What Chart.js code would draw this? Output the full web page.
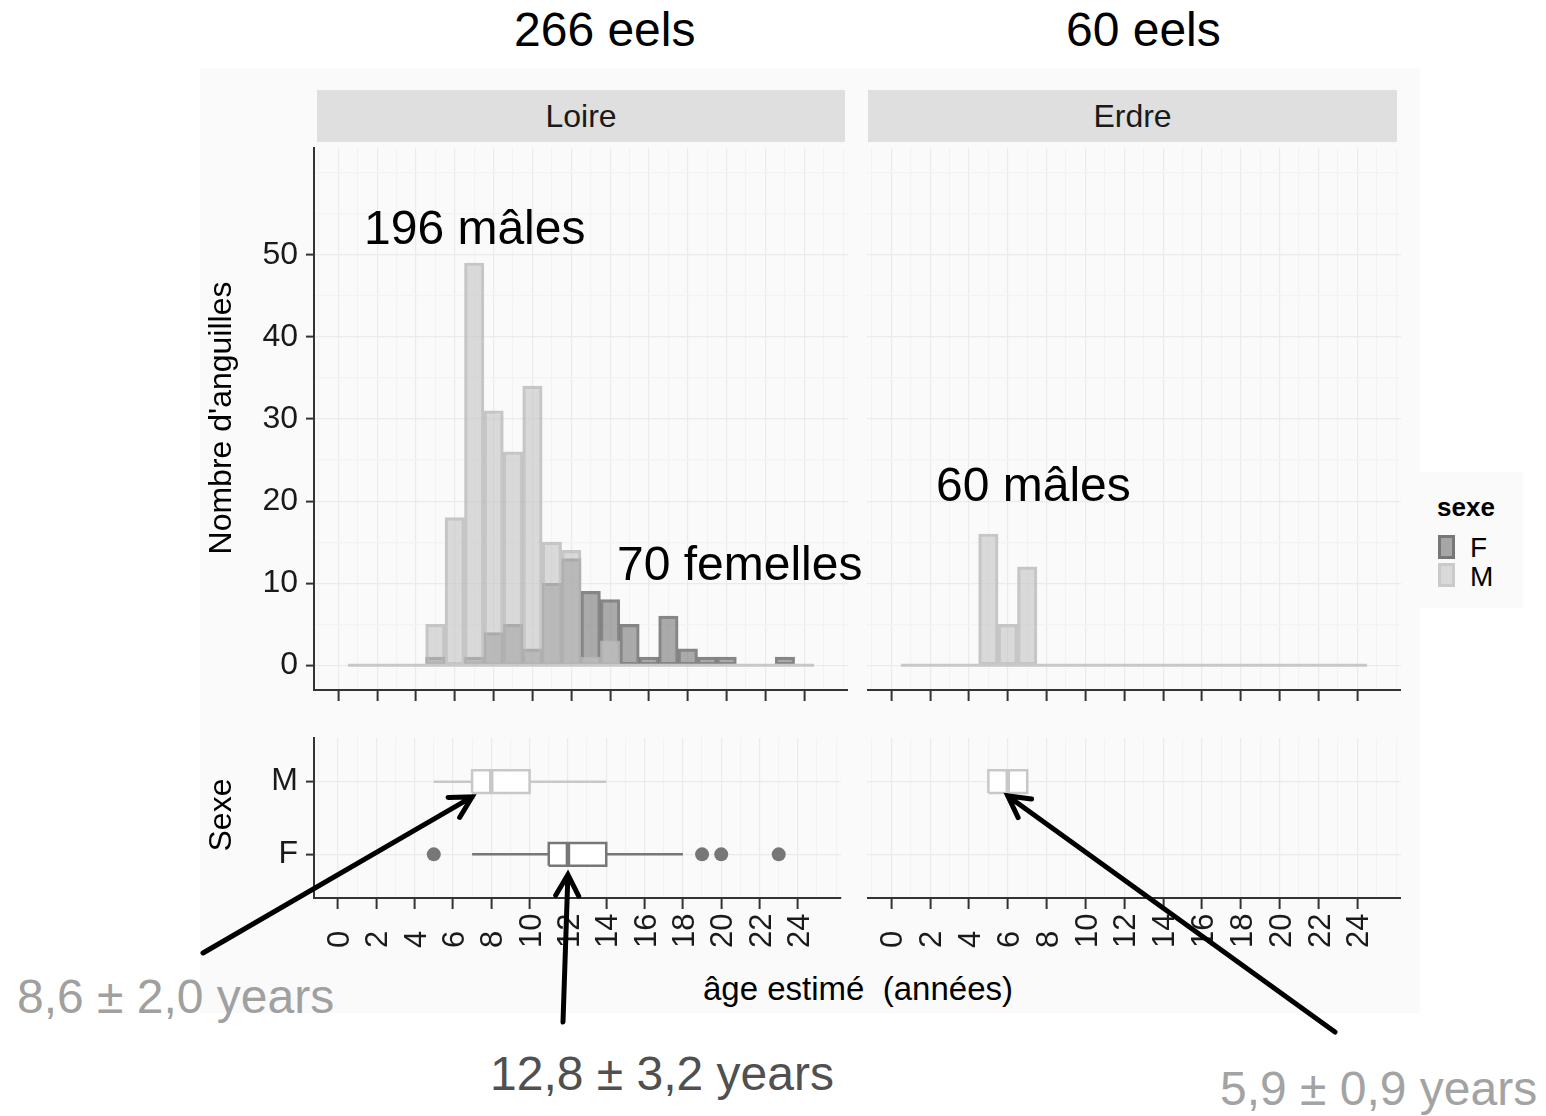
<!DOCTYPE html>
<html>
<head>
<meta charset="utf-8">
<title>Âge estimé des anguilles – Loire et Erdre</title>
<script src="https://cdn.jsdelivr.net/npm/chart.js@4.4.1/dist/chart.umd.min.js"></script>
<style>
  html, body { margin: 0; padding: 0; background: #ffffff; }
  #page { position: relative; width: 1546px; height: 1116px; overflow: hidden;
          font-family: "Liberation Sans", Arial, Helvetica, sans-serif; color: #000; }
  .abs { position: absolute; }
  canvas { position: absolute; }
  .t { position: absolute; white-space: pre; line-height: 1; }
  .strip { position: absolute; background: #dfdfdf; display: flex; align-items: center;
           justify-content: center; font-size: 32px; color: #1a1a1a; }
  .rot { position: absolute; white-space: pre; line-height: 1; font-size: 32px;
         transform: translate(-50%, -50%) rotate(-90deg); }
</style>
</head>
<body>
<div id="page">
  <!-- plot background -->
  <div class="abs" style="left:200px;top:68px;width:1220px;height:945px;background:#fafafa"></div>

  <!-- facet strips -->
  <div class="strip" style="left:317px;top:90px;width:528px;height:52px">Loire</div>
  <div class="strip" style="left:868px;top:90px;width:529px;height:52px">Erdre</div>

  <!-- legend -->
  <div class="abs" style="left:1419px;top:472px;width:104px;height:136px;background:#fafafa"></div>
  <div class="t" style="left:1437px;top:494px;font-size:26px;font-weight:bold">sexe</div>
  <div class="abs" style="left:1438px;top:535px;width:17px;height:24px;box-sizing:border-box;background:#a6a6a6;border:3px solid #777777"></div>
  <div class="abs" style="left:1438px;top:563px;width:17px;height:24px;box-sizing:border-box;background:#d9d9d9;border:3px solid #cacaca"></div>
  <div class="t" style="left:1470px;top:534px;font-size:28px">F</div>
  <div class="t" style="left:1470px;top:563px;font-size:28px">M</div>

  <!-- charts -->
  <canvas id="loireHist" width="648" height="570" style="left:200px;top:140px"></canvas>
  <canvas id="erdreHist" width="534" height="570" style="left:867px;top:140px"></canvas>
  <canvas id="loireBox" width="648" height="235" style="left:200px;top:730px"></canvas>
  <canvas id="erdreBox" width="534" height="235" style="left:867px;top:730px"></canvas>

  <!-- axis titles -->
  <div class="rot" style="left:220px;top:418px">Nombre d'anguilles</div>
  <div class="rot" style="left:220px;top:815px">Sexe</div>
  <div class="t" style="left:703px;top:972px;font-size:33px">âge estimé  (années)</div>

  <!-- annotations -->
  <div class="t" style="left:514px;top:6px;font-size:48px">266 eels</div>
  <div class="t" style="left:1066px;top:6px;font-size:48px">60 eels</div>
  <div class="t" style="left:364px;top:204px;font-size:48px">196 mâles</div>
  <div class="t" style="left:617px;top:540px;font-size:48px">70 femelles</div>
  <div class="t" style="left:936px;top:461px;font-size:48px">60 mâles</div>
  <div class="t" style="left:17px;top:973px;font-size:48px;color:#a0a0a0">8,6 ± 2,0 years</div>
  <div class="t" style="left:490px;top:1050px;font-size:48px;color:#505050">12,8 ± 3,2 years</div>
  <div class="t" style="left:1220px;top:1065px;font-size:48px;color:#a3a3a3">5,9 ± 0,9 years</div>

  <canvas id="arrows" width="1546" height="1116" style="left:0;top:0;pointer-events:none"></canvas>
</div>

<script>
// ---- data -------------------------------------------------------------
// histogram bins of width 1 year, centred on each age
const ages = [1, 2, 3, 4, 5, 6, 7, 8, 9, 10, 11, 12, 13, 14, 15, 16, 17, 18, 19, 20, 21, 22, 23, 24];
const loireFemales = [0, 0, 0, 0, 1, 0, 1, 4, 5, 2, 10, 13, 9, 8, 5, 1, 6, 2, 1, 1, 0, 0, 1, 0];
const loireMales   = [0, 0, 0, 0, 5, 18, 49, 31, 26, 34, 15, 14, 1, 3, 0, 0, 0, 0, 0, 0, 0, 0, 0, 0];
const erdreFemales = [0, 0, 0, 0, 0, 0, 0, 0, 0, 0, 0, 0, 0, 0, 0, 0, 0, 0, 0, 0, 0, 0, 0, 0];
const erdreMales   = [0, 0, 0, 0, 16, 5, 12, 0, 0, 0, 0, 0, 0, 0, 0, 0, 0, 0, 0, 0, 0, 0, 0, 0];

// box plots: [lower whisker, Q1, median, Q3, upper whisker]
const sexLabels = ['F', 'M'];
const loireFemaleBox = [7, 11, 12, 14, 18];
const loireFemaleOutliers = [5, 19, 20, 23];
const loireMaleBox = [5, 7, 8, 10, 14];
const loireMaleOutliers = [];
const erdreFemaleBox = null;
const erdreMaleBox = [5, 5, 6, 7, 7];
const erdreMaleOutliers = [];

// tick labels
const xTickLabels = [0, 2, 4, 6, 8, 10, 12, 14, 16, 18, 20, 22, 24];
const yTickLabels = [0, 10, 20, 30, 40, 50];

// ---- styling ----------------------------------------------------------
const AXIS = '#333333';
const GRID_MAJOR = '#ebebeb';
const GRID_MINOR = '#f3f3f3';
const TEXT = '#1a1a1a';
const FONT = '"Liberation Sans", Arial, sans-serif';
const CLEAR = 'rgba(0,0,0,0)';
const X_MIN = -1.25, X_MAX = 26.25;
const xGrid = [];
for (let v = Math.ceil(X_MIN); v <= Math.floor(X_MAX); v++) xGrid.push(v);
const yGrid = [];
for (let v = 0; v <= 60; v += 5) yGrid.push(v);
const BOX_HALF = 0.155;

const male = { fill: 'rgba(195,195,195,0.6)', line: 'rgba(185,185,185,0.8)', box: '#c8c8c8' };
const female = { fill: 'rgba(135,135,135,0.7)', line: 'rgba(95,95,95,0.75)', box: '#777777' };

// keep the plotting area exactly where the axes put it
function noOverflow(s) {
  s.paddingTop = 0; s.paddingBottom = 0; s.paddingLeft = 0; s.paddingRight = 0;
}

function xAxis(height) {
  return {
    type: 'linear', min: X_MIN, max: X_MAX, offset: false,
    afterBuildTicks: s => { s.ticks = xGrid.map(v => ({ value: v })); },
    afterFit: s => { s.height = height; noOverflow(s); },
    ticks: { display: false },
    grid: {
      offset: false, lineWidth: 1.2, drawTicks: true, tickLength: 11, tickWidth: 2,
      color: c => xTickLabels.includes(c.tick.value) ? GRID_MAJOR : GRID_MINOR,
      tickColor: c => xTickLabels.includes(c.tick.value) ? AXIS : CLEAR
    },
    border: { display: true, color: AXIS, width: 2 }
  };
}

function histYAxis(showLabels) {
  return {
    type: 'linear', min: -3, max: 63,
    afterBuildTicks: s => { s.ticks = yGrid.map(v => ({ value: v })); },
    afterFit: s => { s.width = showLabels ? 114 : 0; noOverflow(s); },
    ticks: {
      display: showLabels, autoSkip: false, padding: 8, color: TEXT,
      font: { family: FONT, size: 32 },
      callback: v => yTickLabels.includes(v) ? String(v) : ''
    },
    grid: {
      lineWidth: 1.2, drawTicks: showLabels, tickLength: 8, tickWidth: 2,
      color: c => yTickLabels.includes(c.tick.value) ? GRID_MAJOR : GRID_MINOR,
      tickColor: c => yTickLabels.includes(c.tick.value) ? AXIS : CLEAR
    },
    border: { display: showLabels, color: AXIS, width: 2 }
  };
}

function barData(counts) {
  return ages.map((a, i) => ({ x: a, y: counts[i] })).filter(d => d.y > 0);
}

function histChart(id, males, females, showY) {
  return new Chart(document.getElementById(id), {
    type: 'bar',
    data: {
      datasets: [
        { // bins with no eels show as a flat line along zero
          type: 'line', order: 0,
          data: [{ x: ages[0] - 0.5, y: 0 }, { x: ages[ages.length - 1] + 0.5, y: 0 }],
          borderColor: '#c8c8c8', borderWidth: 3, pointRadius: 0, fill: false
        },
        {
          label: 'M', order: 1, data: barData(males),
          backgroundColor: male.fill, borderColor: male.line, borderWidth: 2.5,
          borderSkipped: false, grouped: false, barPercentage: 1, categoryPercentage: 1
        },
        {
          label: 'F', order: 2, data: barData(females),
          backgroundColor: female.fill, borderColor: female.line, borderWidth: 2.5,
          borderSkipped: false, grouped: false, barPercentage: 1, categoryPercentage: 1
        }
      ]
    },
    options: {
      responsive: false, animation: false, devicePixelRatio: 1,
      layout: { padding: { top: 8, right: 0, bottom: 0, left: 0 } },
      plugins: { legend: { display: false }, tooltip: { enabled: false } },
      scales: { x: xAxis(20), y: histYAxis(showY) }
    }
  });
}

// rotated x tick labels, each starting from the same baseline under the axis
const rotatedLabels = {
  id: 'rotatedLabels',
  afterDraw(chart) {
    const s = chart.scales.x, ctx = chart.ctx, size = 31;
    ctx.save();
    ctx.font = size + 'px ' + FONT;
    ctx.fillStyle = TEXT;
    ctx.textAlign = 'left';
    ctx.textBaseline = 'alphabetic';
    xTickLabels.forEach(v => {
      ctx.save();
      ctx.translate(s.getPixelForValue(v) + 0.358 * size, s.top + 50);
      ctx.rotate(-Math.PI / 2);
      ctx.fillText(String(v), 0, 0);
      ctx.restore();
    });
    ctx.restore();
  }
};

function boxDatasets(stats, yPos, color, outliers) {
  if (!stats) return [];
  const [lo, q1, med, q3, hi] = stats;
  const common = { showLine: true, pointRadius: 0, borderColor: color, borderWidth: 2.5, fill: false };
  const sets = [
    Object.assign({}, common, { order: 2, data: [{ x: lo, y: yPos }, { x: q1, y: yPos }] }),
    Object.assign({}, common, { order: 2, data: [{ x: q3, y: yPos }, { x: hi, y: yPos }] }),
    Object.assign({}, common, {
      order: 1, fill: 'shape', backgroundColor: '#ffffff',
      data: [
        { x: q1, y: yPos - BOX_HALF }, { x: q3, y: yPos - BOX_HALF },
        { x: q3, y: yPos + BOX_HALF }, { x: q1, y: yPos + BOX_HALF },
        { x: q1, y: yPos - BOX_HALF }
      ]
    }),
    Object.assign({}, common, {
      order: 0, borderWidth: 4.5,
      data: [{ x: med, y: yPos - BOX_HALF }, { x: med, y: yPos + BOX_HALF }]
    })
  ];
  if (outliers.length) {
    sets.push({
      order: 0, showLine: false, pointRadius: 7, pointBackgroundColor: color,
      pointBorderWidth: 0, data: outliers.map(v => ({ x: v, y: yPos }))
    });
  }
  return sets;
}

function boxChart(id, femaleStats, femaleOut, maleStats, maleOut, showY) {
  const yF = sexLabels.indexOf('F') + 1, yM = sexLabels.indexOf('M') + 1;
  return new Chart(document.getElementById(id), {
    type: 'scatter',
    data: {
      datasets: [].concat(
        boxDatasets(maleStats, yM, male.box, maleOut),
        boxDatasets(femaleStats, yF, female.box, femaleOut)
      )
    },
    options: {
      responsive: false, animation: false, devicePixelRatio: 1,
      layout: { padding: { top: 8, right: 0, bottom: 0, left: 0 } },
      plugins: { legend: { display: false }, tooltip: { enabled: false } },
      scales: {
        x: xAxis(67),
        y: {
          type: 'linear', min: 0.4, max: sexLabels.length + 0.6,
          afterBuildTicks: s => { s.ticks = sexLabels.map((_, i) => ({ value: i + 1 })); },
          afterFit: s => { s.width = showY ? 114 : 0; noOverflow(s); },
          ticks: {
            display: showY, autoSkip: false, padding: 8, color: TEXT,
            font: { family: FONT, size: 32 },
            callback: v => sexLabels[v - 1]
          },
          grid: { lineWidth: 1.2, color: GRID_MAJOR, drawTicks: showY, tickLength: 8, tickWidth: 2, tickColor: AXIS },
          border: { display: showY, color: AXIS, width: 2 }
        }
      }
    },
    plugins: [rotatedLabels]
  });
}

const loireHist = histChart('loireHist', loireMales, loireFemales, true);
const erdreHist = histChart('erdreHist', erdreMales, erdreFemales, false);
const loireBox = boxChart('loireBox', loireFemaleBox, loireFemaleOutliers, loireMaleBox, loireMaleOutliers, true);
const erdreBox = boxChart('erdreBox', erdreFemaleBox, [], erdreMaleBox, erdreMaleOutliers, false);

// ---- arrows pointing from the summary labels to the boxes ----------------
function pagePoint(chart, xv, yv, dy) {
  const c = chart.canvas;
  return [c.offsetLeft + chart.scales.x.getPixelForValue(xv),
          c.offsetTop + chart.scales.y.getPixelForValue(yv) + dy];
}

function arrow(ctx, from, to) {
  const ang = Math.atan2(to[1] - from[1], to[0] - from[0]);
  const len = 24, spread = 0.5;
  ctx.beginPath();
  ctx.moveTo(from[0], from[1]);
  ctx.lineTo(to[0], to[1]);
  ctx.moveTo(to[0] - len * Math.cos(ang - spread), to[1] - len * Math.sin(ang - spread));
  ctx.lineTo(to[0], to[1]);
  ctx.lineTo(to[0] - len * Math.cos(ang + spread), to[1] - len * Math.sin(ang + spread));
  ctx.stroke();
}

(function drawArrows() {
  const ctx = document.getElementById('arrows').getContext('2d');
  ctx.strokeStyle = '#000000';
  ctx.lineWidth = 5;
  ctx.lineCap = 'round';
  ctx.lineJoin = 'miter';
  const yM = sexLabels.indexOf('M') + 1, yF = sexLabels.indexOf('F') + 1;
  arrow(ctx, [203, 953], pagePoint(loireBox, loireMaleBox[1], yM - BOX_HALF, 4));
  arrow(ctx, [563, 1022], pagePoint(loireBox, loireFemaleBox[2], yF - BOX_HALF, 9));
  arrow(ctx, [1335, 1032], pagePoint(erdreBox, erdreMaleBox[2], yM - BOX_HALF, 3));
})();
</script>
</body>
</html>
